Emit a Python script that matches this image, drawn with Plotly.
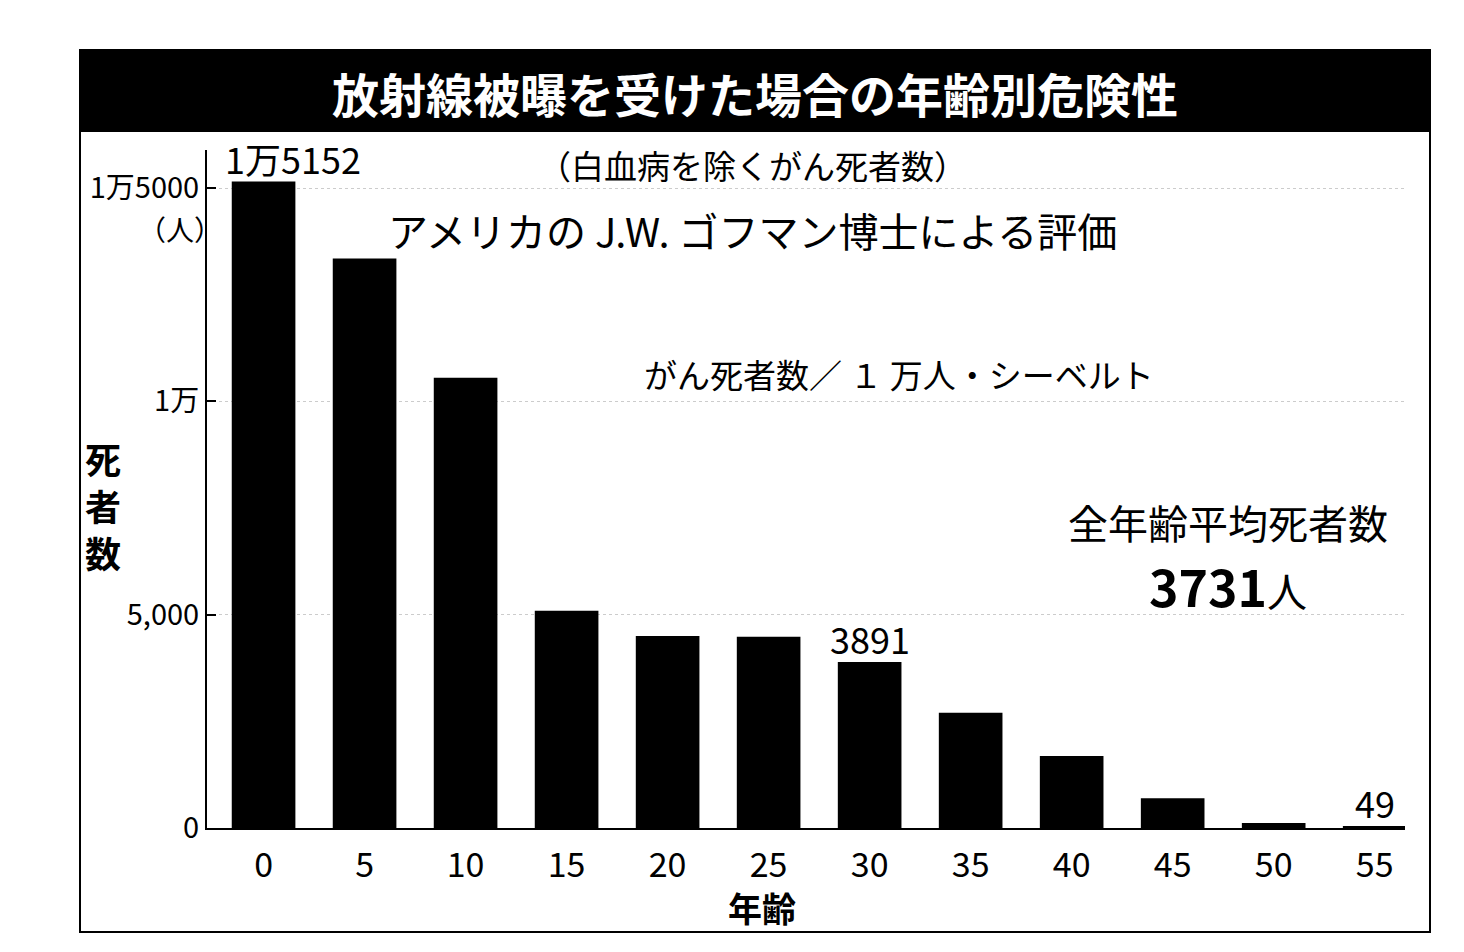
import plotly.graph_objects as go

# ---- data ----
ages = [0, 5, 10, 15, 20, 25, 30, 35, 40, 45, 50, 55]
age_labels = [str(a) for a in ages]
deaths = [15152, 13350, 10550, 5090, 4500, 4480, 3891, 2700, 1690, 700, 120, 49]
bar_text = ["1万5152", "", "", "", "", "", "3891", "", "", "", "", "49"]
y_tickvals = [0, 5000, 10000, 15000]
y_ticktext = ["0", "5,000", "1万", "1万5000"]

title = "放射線被曝を受けた場合の年齢別危険性"
subtitle = "（白血病を除くがん死者数）"
source_note = "アメリカの J.W. ゴフマン博士による評価"
unit_note = "がん死者数／ １ 万人・シーベルト"
avg_label = "全年齢平均死者数"
avg_value = "3731"

W, H = 1464, 952
L, R, T, B = 207, 1405, 150, 828
JP = "Noto Sans CJK JP"


def px(x):
    return (x - L) / (R - L)


def py(y):
    return (B - y) / (B - T)


fig = go.Figure()
fig.add_trace(go.Bar(
    x=list(range(len(ages))), y=deaths,
    marker=dict(color="black", line=dict(width=0)),
    cliponaxis=False, width=0.63,
))

fig.update_layout(
    width=W, height=H,
    margin=dict(l=L, r=W - R, t=T, b=H - B),
    paper_bgcolor="white", plot_bgcolor="white",
    showlegend=False,
    font=dict(family=JP, color="black"),
    xaxis=dict(
        range=[-0.56, 11.3], tickvals=list(range(len(ages))), ticktext=age_labels,
        showline=True, linecolor="black", linewidth=2, ticks="",
        tickfont=dict(family=JP, size=34, color="black"),
        ticklabelstandoff=6, showgrid=False, zeroline=False,
    ),
    yaxis=dict(
        range=[0, (B - T) / ((B - 188) / 15000)],
        tickvals=y_tickvals, ticktext=y_ticktext,
        showline=True, linecolor="black", linewidth=2,
        ticks="inside", ticklen=9, tickcolor="black", tickwidth=1.5,
        tickfont=dict(family=JP, size=29, color="black"),
        ticklabelstandoff=0,
        showgrid=True, gridcolor="#cccccc", griddash="dot", gridwidth=1,
        zeroline=False,
    ),
)

shapes = [
    # outer frame
    dict(type="rect", xref="paper", yref="paper",
         x0=px(80), x1=px(1430), y0=py(932), y1=py(50),
         line=dict(color="black", width=2), fillcolor="rgba(0,0,0,0)", layer="below"),
    # title band
    dict(type="rect", xref="paper", yref="paper",
         x0=px(80), x1=px(1430), y0=py(132), y1=py(50),
         line=dict(color="black", width=0), fillcolor="black", layer="above"),
]
fig.update_layout(shapes=shapes)

ann = [
    dict(text="<b>" + title + "</b>", x=px(755), y=py(92), font=dict(size=47, color="white", family=JP)),
    dict(text=subtitle, x=px(752), y=py(165), font=dict(size=33)),
    dict(text=source_note, x=px(752), y=py(230), font=dict(size=40)),
    dict(text=unit_note, x=px(899), y=py(374), font=dict(size=33)),
    dict(text=avg_label, x=px(1228), y=py(522), font=dict(size=40)),
    dict(text="<b>" + avg_value + "</b><span style='font-size:40px'>人</span>",
         x=px(1228), y=py(585), font=dict(size=50)),
    dict(text="（人）", x=px(180), y=py(229), font=dict(size=28)),
    dict(text="<b>死<br>者<br>数</b>", x=px(103), y=py(505), font=dict(size=36)),
    dict(text="<b>年齢</b>", x=px(762), y=py(908), font=dict(size=34)),
]
for a in ann:
    a.update(xref="paper", yref="paper", showarrow=False,
             xanchor="center", yanchor="middle")

# value labels above selected bars, positioned by data coordinates
for i, (v, t) in enumerate(zip(deaths, bar_text)):
    if t:
        ann.append(dict(text=t, x=i, y=v, xref="x", yref="y", showarrow=False,
                        xanchor="center", yanchor="bottom", yshift=-4,
                        xshift=29 if i == 0 else 0,
                        font=dict(size=36)))

for a in ann:
    a["font"].setdefault("family", JP)
    a["font"].setdefault("color", "black")
fig.update_layout(annotations=ann)

fig.write_html("out.html")
